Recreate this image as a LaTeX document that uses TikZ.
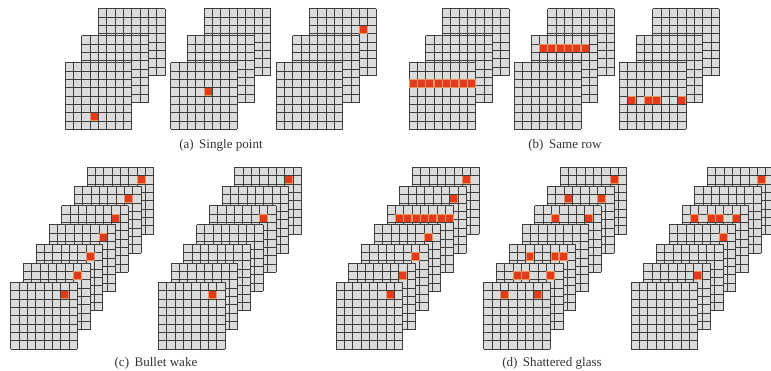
\documentclass[tikz,border=0pt]{standalone}
\usepackage{fontspec}
\setmainfont{Liberation Serif}
\definecolor{sheetgray}{RGB}{220,220,220}
\definecolor{gridink}{RGB}{62,62,62}
\definecolor{hitred}{RGB}{226,58,28}
\definecolor{hitglow}{RGB}{232,150,90}
\tikzset{
  subcap/.style={font=\fontsize{9.8}{11}\selectfont,text=black!80,inner sep=0pt},
  % pictograms
  pics/sheet/.style={code={
    \fill[sheetgray] (0,0) rectangle (66.7,66.7);
    \foreach \k in {0,...,8} \draw[gridink,line width=0.62pt] (\k*8.33,0) -- (\k*8.33,66.7) (0,\k*8.33) -- (66.7,\k*8.33);
  }},
  pics/hit/.style={code={
    \fill[hitglow] (0,0) rectangle (8.33,8.33);
    \fill[hitred] (0.7,0.7) rectangle (7.63,7.63);
  }},
}
\begin{document}
\begin{tikzpicture}[x=0.75pt,y=-0.75pt]
        \useasboundingbox (0,0) rectangle (771,371);
        % three sheets
        \foreach \xs in {65,170.7,276,409,514.3,619.3}
          \foreach \l in {2,1,0} \pic at (\xs+\l*16.7,62.7-\l*26.9) {sheet};
        \foreach \xs/\l/\c/\r in {65/0/3/6,170.7/0/4/3,276/2/6/2,514.3/1/1/1,514.3/1/2/1,514.3/1/3/1,514.3/1/4/1,514.3/1/5/1,514.3/1/6/1,
          619.3/0/1/4,619.3/0/3/4,619.3/0/4/4,619.3/0/7/4}
          \pic at (\xs+\l*16.7+\c*8.33,62.7-\l*26.9+\r*8.33) {hit};
        \foreach \c in {0,...,7} \pic at (409+\c*8.33,62.7+2*8.33) {hit};
        % seven sheets
        \foreach \xs in {10.7,158.3,336,483.7,631}
          \foreach \l in {6,...,0} \pic at (\xs+\l*12.75,282.3-\l*19.17) {sheet};
        \foreach \xs/\l/\c in {158.3/0/6,158.3/4/6,158.3/6/6,
          483.7/0/2,483.7/0/6,483.7/1/2,483.7/1/3,483.7/1/6,483.7/2/2,483.7/2/5,483.7/2/6,483.7/4/2,483.7/4/6,483.7/5/2,483.7/5/6,483.7/6/6,
          631/1/6,631/3/6,631/4/1,631/4/3,631/4/4,631/4/6,631/6/6}
          \pic at (\xs+\l*12.75+\c*8.33,282.3-\l*19.17+8.33) {hit};
        \foreach \xs in {10.7,336}
          \foreach \l in {0,...,6} \pic at (\xs+\l*12.75+6*8.33,282.3-\l*19.17+8.33) {hit};
        \foreach \c in {1,...,5,7} \pic at (336+4*12.75+\c*8.33,282.3-4*19.17+8.33) {hit};
        \node[subcap] (capa) at (221,145) {(a)\, Single point};
        \node[subcap] (capb) at (565,145) {(b)\, Same row};
        \node[subcap] (capc) at (156,363) {(c)\, Bullet wake};
        \node[subcap] (capd) at (552,363) {(d)\, Shattered glass};
      \end{tikzpicture}
\end{document}
